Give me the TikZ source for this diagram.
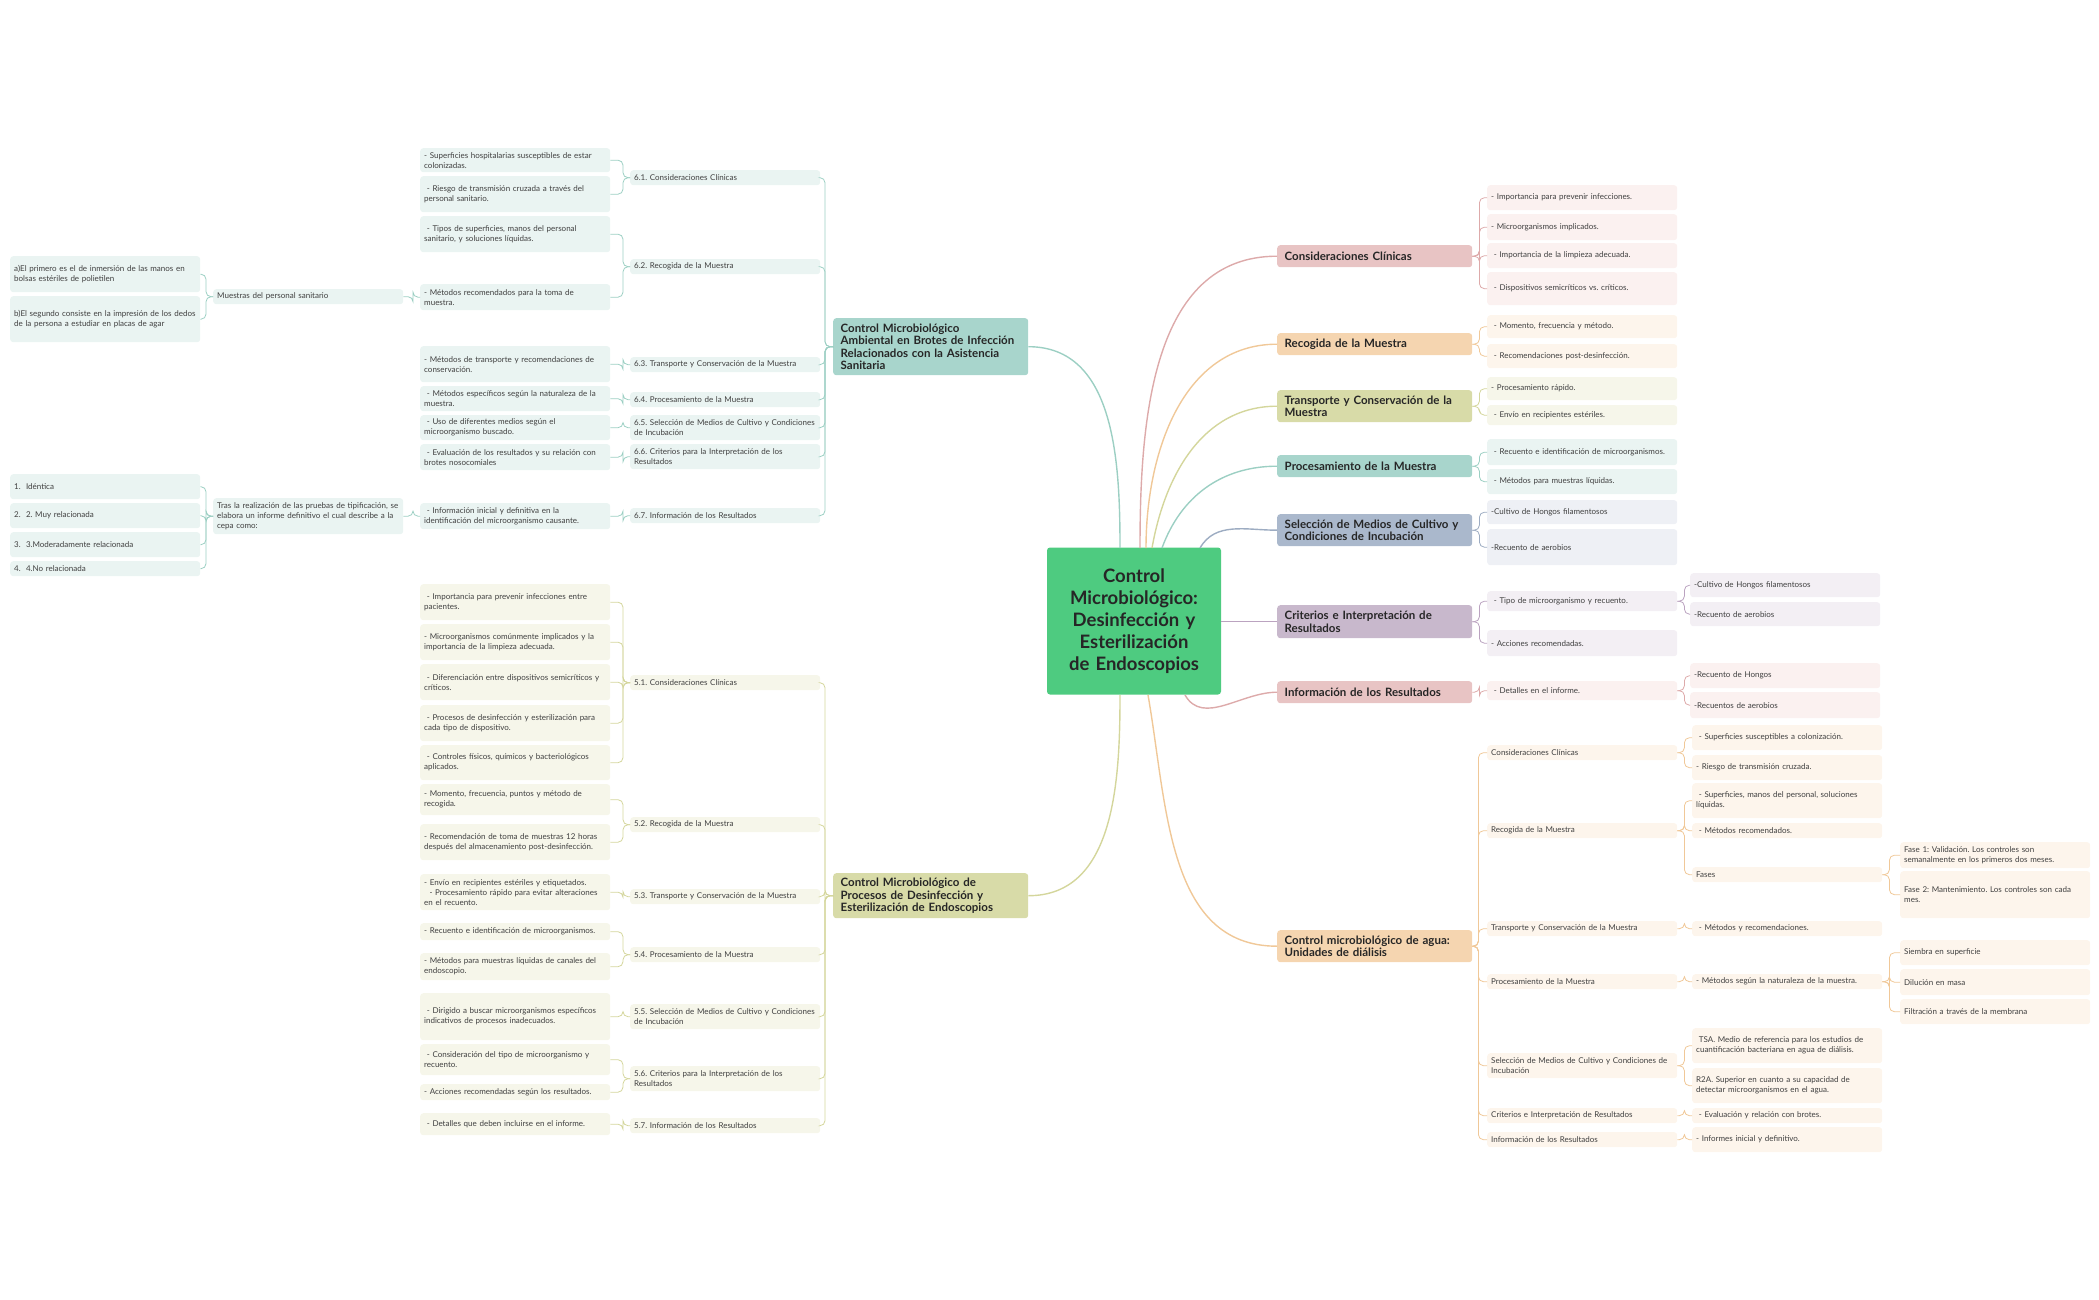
\documentclass[tikz,border=0pt]{standalone}
\usepackage{fontspec}
\setmainfont{Lato}
\usetikzlibrary{positioning}
\hyphenpenalty=10000 \exhyphenpenalty=10000 \frenchspacing

\definecolor{cenG}{HTML}{4ECB80}
\definecolor{pinkM}{HTML}{E8C4C4}\definecolor{pinkL}{HTML}{FBF1F0}\definecolor{pinkD}{HTML}{DDAAAA}
\definecolor{oranM}{HTML}{F5D5B0}\definecolor{oranL}{HTML}{FDF5EC}\definecolor{oranD}{HTML}{F0C898}
\definecolor{oliM}{HTML}{D8DBA8}\definecolor{oliL}{HTML}{F6F6EA}\definecolor{oliD}{HTML}{D4D69C}
\definecolor{tealM}{HTML}{A8D5CC}\definecolor{tealL}{HTML}{EAF4F2}\definecolor{tealD}{HTML}{9CCFC3}
\definecolor{bluM}{HTML}{AAB8CC}\definecolor{bluL}{HTML}{EEF0F5}\definecolor{bluD}{HTML}{9DACC2}
\definecolor{purM}{HTML}{C8B8CC}\definecolor{purL}{HTML}{F3EFF4}\definecolor{purD}{HTML}{BBA3C0}

\tikzset{
  main/.style={rounded corners=3pt,anchor=north west,text width=180pt,inner xsep=4pt,inner ysep=2pt,
    align=left,font=\fontsize{11.5}{12.5}\selectfont\bfseries,text=black!85,minimum width=195pt},
  leaf/.style={rounded corners=3pt,anchor=north west,text width=182pt,inner xsep=4pt,inner ysep=2pt,
    align=left,font=\fontsize{8}{10}\selectfont,text=black!75},
  rlink/.style={rounded corners=5pt,line width=0.8pt},
  trunk/.style={line width=1.4pt},
}

\begin{document}
\begin{tikzpicture}[x=1pt,y=-1pt]
  \useasboundingbox (0,0) rectangle (2099,1300);

  % centre
  \node[rounded corners=3pt,fill=cenG,minimum width=174pt,minimum height=147pt,text width=150pt,align=center,
    font=\fontsize{18.5}{22}\selectfont\bfseries,text=black!85] (c) at (1134,621)
    {Control Microbiológico: Desinfección y Esterilización de Endoscopios};

  % ---------- right side ----------
  \node[main,fill=pinkM,minimum height=22pt] (r1) at (1277,245) {Consideraciones Clínicas};
  \node[main,fill=oranM,minimum height=22pt] (r2) at (1277,333) {Recogida de la Muestra};
  \node[main,fill=oliM,minimum height=32pt] (r3) at (1277,390) {Transporte y Conservación de la Muestra};
  \node[main,fill=tealM,minimum height=22pt] (r4) at (1277,455) {Procesamiento de la Muestra};
  \node[main,fill=bluM,minimum height=32pt] (r5) at (1277,514) {Selección de Medios de Cultivo y Condiciones de Incubación};
  \node[main,fill=purM,minimum height=33pt] (r6) at (1277,605) {Criterios e Interpretación de Resultados};
  \node[main,fill=pinkM,minimum height=22pt] (r7) at (1277,681) {Información de los Resultados};
  \node[main,fill=oranM,minimum height=32pt] (r8) at (1277,930) {Control microbiológico de agua: Unidades de diálisis};

  \draw[trunk,pinkD] (1140,548) to[out=90,in=180] (r1.west);
  \draw[trunk,oranD] (1146,548) to[out=90,in=180] (r2.west);
  \draw[trunk,oliD] (1152,548) to[out=80,in=180] (r3.west);
  \draw[trunk,tealD] (1162,548) to[out=70,in=180] (r4.west);
  \draw[trunk,bluD] (1200,548) to[out=60,in=180] (r5.west);
  \draw[trunk,purD] (c.east |- r6.west) -- (r6.west);
  \draw[trunk,pinkD] (1185,695) to[out=-60,in=180] (r7.west);
  \draw[trunk,oranD] (1148,695) to[out=-80,in=180] (r8.west);

  \node[leaf,fill=pinkL,minimum height=25pt] (r1a) at (1487,185) {- Importancia para prevenir infecciones.};
  \node[leaf,fill=pinkL,minimum height=26pt] (r1b) at (1487,214) {- Microorganismos implicados.};
  \node[leaf,fill=pinkL,minimum height=25pt] (r1c) at (1487,243) {\ - Importancia de la limpieza adecuada.};
  \node[leaf,fill=pinkL,minimum height=33pt] (r1d) at (1487,272) {\ - Dispositivos semicríticos vs. críticos.};
  \node[leaf,fill=oranL,minimum height=23pt] (r2a) at (1487,315) {\ - Momento, frecuencia y método.};
  \node[leaf,fill=oranL,minimum height=24pt] (r2b) at (1487,344) {\ - Recomendaciones post-desinfección.};
  \node[leaf,fill=oliL,minimum height=23pt] (r3a) at (1487,377) {- Procesamiento rápido.};
  \node[leaf,fill=oliL,minimum height=20pt] (r3b) at (1487,405) {\ - Envío en recipientes estériles.};
  \node[leaf,fill=tealL,minimum height=26pt] (r4a) at (1487,439) {\ - Recuento e identificación de microorganismos.};
  \node[leaf,fill=tealL,minimum height=25pt] (r4b) at (1487,469) {\ - Métodos para muestras líquidas.};
  \node[leaf,fill=bluL,minimum height=24pt] (r5a) at (1487,500) {-Cultivo de Hongos filamentosos};
  \node[leaf,fill=bluL,minimum height=36pt] (r5b) at (1487,529) {-Recuento de aerobios};
  \node[leaf,fill=purL,minimum height=20pt] (r6a) at (1487,591) {\ - Tipo de microorganismo y recuento.};
  \node[leaf,fill=purL,minimum height=26pt] (r6b) at (1487,630) {- Acciones recomendadas.};
  \node[leaf,fill=purL,minimum height=24pt] (r6a1) at (1690,573) {-Cultivo de Hongos filamentosos};
  \node[leaf,fill=purL,minimum height=24pt] (r6a2) at (1690,602) {-Recuento de aerobios};
  \node[leaf,fill=pinkL,minimum height=19pt] (r7a) at (1487,681) {\ - Detalles en el informe.};
  \node[leaf,fill=pinkL,minimum height=25pt] (r7a1) at (1690,663) {-Recuento de Hongos};
  \node[leaf,fill=pinkL,minimum height=26pt] (r7a2) at (1690,692) {-Recuentos de aerobios};

  \foreach \p/\k/\col in {r1/r1a/pinkD,r1/r1b/pinkD,r1/r1c/pinkD,r1/r1d/pinkD,r2/r2a/oranD,r2/r2b/oranD,
      r3/r3a/oliD,r3/r3b/oliD,r4/r4a/tealD,r4/r4b/tealD,r5/r5a/bluD,r5/r5b/bluD,r6/r6a/purD,r6/r6b/purD,
      r6a/r6a1/purD,r6a/r6a2/purD,r7/r7a/pinkD,r7a/r7a1/pinkD,r7a/r7a2/pinkD}
    \draw[rlink,\col] (\p.east) -- ++(7,0) |- (\k.west);

  % agua
  \node[leaf,fill=oranL,minimum height=15pt] (w1) at (1487,745) {Consideraciones Clínicas};
  \node[leaf,fill=oranL,minimum height=15pt] (w2) at (1487,823) {Recogida de la Muestra};
  \node[leaf,fill=oranL,minimum height=15pt] (w3) at (1487,921) {Transporte y Conservación de la Muestra};
  \node[leaf,fill=oranL,minimum height=15pt] (w4) at (1487,974) {Procesamiento de la Muestra};
  \node[leaf,fill=oranL,minimum height=25pt] (w5) at (1487,1053) {Selección de Medios de Cultivo y Condiciones de Incubación};
  \node[leaf,fill=oranL,minimum height=15pt] (w6) at (1487,1108) {Criterios e Interpretación de Resultados};
  \node[leaf,fill=oranL,minimum height=15pt] (w7) at (1487,1132) {Información de los Resultados};
  \node[leaf,fill=oranL,minimum height=25pt] (w1a) at (1692,725) {\ - Superficies susceptibles a colonización.};
  \node[leaf,fill=oranL,minimum height=25pt] (w1b) at (1692,755) {- Riesgo de transmisión cruzada.};
  \node[leaf,fill=oranL,minimum height=35pt] (w2a) at (1692,783) {\ - Superficies, manos del personal, soluciones líquidas.};
  \node[leaf,fill=oranL,minimum height=15pt] (w2b) at (1692,823) {\ - Métodos recomendados.};
  \node[leaf,fill=oranL,minimum height=15pt] (w2c) at (1692,867) {Fases};
  \node[leaf,fill=oranL,minimum height=26pt] (w2c1) at (1900,842) {Fase 1: Validación. Los controles son semanalmente en los primeros dos meses.};
  \node[leaf,fill=oranL,minimum height=47pt] (w2c2) at (1900,871) {Fase 2: Mantenimiento. Los controles son cada mes.};
  \node[leaf,fill=oranL,minimum height=15pt] (w3a) at (1692,921) {\ - Métodos y recomendaciones.};
  \node[leaf,fill=oranL,minimum height=15pt] (w4a) at (1692,974) {- Métodos según la naturaleza de la muestra.};
  \node[leaf,fill=oranL,minimum height=25pt] (w4a1) at (1900,940) {Siembra en superficie};
  \node[leaf,fill=oranL,minimum height=26pt] (w4a2) at (1900,969) {Dilución en masa};
  \node[leaf,fill=oranL,minimum height=25pt] (w4a3) at (1900,999) {Filtración a través de la membrana};
  \node[leaf,fill=oranL,minimum height=35pt] (w5a) at (1692,1028) {\ TSA. Medio de referencia para los estudios de cuantificación bacteriana en agua de diálisis.};
  \node[leaf,fill=oranL,minimum height=35pt] (w5b) at (1692,1068) {R2A. Superior en cuanto a su capacidad de detectar microorganismos en el agua.};
  \node[leaf,fill=oranL,minimum height=15pt] (w6a) at (1692,1108) {\ - Evaluación y relación con brotes.};
  \node[leaf,fill=oranL,minimum height=25pt] (w7a) at (1692,1127) {- Informes inicial y definitivo.};

  \foreach \k in {w1,w2,w3,w4,w5,w6,w7}
    \draw[rlink,oranD] (r8.east) -- ++(6,0) |- (\k.west);
  \foreach \p/\k in {w1/w1a,w1/w1b,w2/w2a,w2/w2b,w2/w2c,w2c/w2c1,w2c/w2c2,w3/w3a,w4/w4a,
      w4a/w4a1,w4a/w4a2,w4a/w4a3,w5/w5a,w5/w5b,w6/w6a,w7/w7a}
    \draw[rlink,oranD] (\p.east) -- ++(7,0) |- (\k.west);

  % ---------- left top ----------
  \node[main,fill=tealM,minimum height=57pt] (l1) at (833,318)
    {Control Microbiológico Ambiental en Brotes de Infección Relacionados con la Asistencia Sanitaria};
  \draw[trunk,tealD] (1120,548) to[out=90,in=0] (l1.east);

  \node[leaf,fill=tealL,minimum height=15pt] (a1) at (630,170) {6.1. Consideraciones Clínicas};
  \node[leaf,fill=tealL,minimum height=15pt] (a2) at (630,259) {6.2. Recogida de la Muestra};
  \node[leaf,fill=tealL,minimum height=15pt] (a3) at (630,357) {6.3. Transporte y Conservación de la Muestra};
  \node[leaf,fill=tealL,minimum height=15pt] (a4) at (630,392) {6.4. Procesamiento de la Muestra};
  \node[leaf,fill=tealL,minimum height=25pt] (a5) at (630,415) {6.5. Selección de Medios de Cultivo y Condiciones de Incubación};
  \node[leaf,fill=tealL,minimum height=25pt] (a6) at (630,444) {6.6. Criterios para la Interpretación de los Resultados};
  \node[leaf,fill=tealL,minimum height=15pt] (a7) at (630,508) {6.7. Información de los Resultados};
  \node[leaf,fill=tealL,minimum height=24pt] (a1a) at (420,148) {- Superficies hospitalarias susceptibles de estar colonizadas.};
  \node[leaf,fill=tealL,minimum height=36pt] (a1b) at (420,176) {\ - Riesgo de transmisión cruzada a través del personal sanitario.};
  \node[leaf,fill=tealL,minimum height=36pt] (a2a) at (420,216) {\ - Tipos de superficies, manos del personal sanitario, y soluciones líquidas.};
  \node[leaf,fill=tealL,minimum height=26pt] (a2b) at (420,284) {- Métodos recomendados para la toma de muestra.};
  \node[leaf,fill=tealL,minimum height=15pt] (a2b1) at (213,289) {Muestras del personal sanitario};
  \node[leaf,fill=tealL,minimum height=36pt] (a2b1a) at (10,256) {a)El primero es el de inmersión de las manos en bolsas estériles de polietilen};
  \node[leaf,fill=tealL,minimum height=46pt] (a2b1b) at (10,296) {b)El segundo consiste en la impresión de los dedos de la persona a estudiar en placas de agar};
  \node[leaf,fill=tealL,minimum height=36pt] (a3a) at (420,346) {- Métodos de transporte y recomendaciones de conservación.};
  \node[leaf,fill=tealL,minimum height=25pt] (a4a) at (420,386) {\ - Métodos específicos según la naturaleza de la muestra.};
  \node[leaf,fill=tealL,minimum height=25pt] (a5a) at (420,415) {\ - Uso de diferentes medios según el microorganismo buscado.};
  \node[leaf,fill=tealL,minimum height=26pt] (a6a) at (420,444) {\ - Evaluación de los resultados y su relación con brotes nosocomiales};
  \node[leaf,fill=tealL,minimum height=26pt] (a7a) at (420,503) {\ - Información inicial y definitiva en la identificación del microorganismo causante.};
  \node[leaf,fill=tealL,minimum height=36pt] (a7a1) at (213,498) {Tras la realización de las pruebas de tipificación, se elabora un informe definitivo el cual describe a la cepa como:};
  \node[leaf,fill=tealL,minimum height=25pt] (a7a1a) at (10,474) {1.\ \ Idéntica};
  \node[leaf,fill=tealL,minimum height=25pt] (a7a1b) at (10,503) {2.\ \ 2. Muy relacionada};
  \node[leaf,fill=tealL,minimum height=25pt] (a7a1c) at (10,532) {3.\ \ 3.Moderadamente relacionada};
  \node[leaf,fill=tealL,minimum height=15pt] (a7a1d) at (10,561) {4.\ \ 4.No relacionada};

  \foreach \k in {a1,a2,a3,a4,a5,a6,a7}
    \draw[rlink,tealD] (l1.west) -- ++(-8,0) |- (\k.east);
  \foreach \p/\k in {a1/a1a,a1/a1b,a2/a2a,a2/a2b,a2b/a2b1,a2b1/a2b1a,a2b1/a2b1b,a3/a3a,a4/a4a,a5/a5a,a6/a6a,
      a7/a7a,a7a/a7a1,a7a1/a7a1a,a7a1/a7a1b,a7a1/a7a1c,a7a1/a7a1d}
    \draw[rlink,tealD] (\p.west) -- ++(-7,0) |- (\k.east);

  % ---------- left bottom ----------
  \node[main,fill=oliM,minimum height=45pt] (l2) at (833,873)
    {Control Microbiológico de Procesos de Desinfección y Esterilización de Endoscopios};
  \draw[trunk,oliD] (1120,695) to[out=-90,in=0] (l2.east);

  \node[leaf,fill=oliL,minimum height=15pt] (b1) at (630,675) {5.1. Consideraciones Clínicas};
  \node[leaf,fill=oliL,minimum height=15pt] (b2) at (630,817) {5.2. Recogida de la Muestra};
  \node[leaf,fill=oliL,minimum height=15pt] (b3) at (630,889) {5.3. Transporte y Conservación de la Muestra};
  \node[leaf,fill=oliL,minimum height=15pt] (b4) at (630,947) {5.4. Procesamiento de la Muestra};
  \node[leaf,fill=oliL,minimum height=25pt] (b5) at (630,1004) {5.5. Selección de Medios de Cultivo y Condiciones de Incubación};
  \node[leaf,fill=oliL,minimum height=25pt] (b6) at (630,1066) {5.6. Criterios para la Interpretación de los Resultados};
  \node[leaf,fill=oliL,minimum height=15pt] (b7) at (630,1118) {5.7. Información de los Resultados};
  \node[leaf,fill=oliL,minimum height=36pt] (b1a) at (420,584) {\ - Importancia para prevenir infecciones entre pacientes.};
  \node[leaf,fill=oliL,minimum height=36pt] (b1b) at (420,624) {- Microorganismos comúnmente implicados y la importancia de la limpieza adecuada.};
  \node[leaf,fill=oliL,minimum height=36pt] (b1c) at (420,664) {\ - Diferenciación entre dispositivos semicríticos y críticos.};
  \node[leaf,fill=oliL,minimum height=36pt] (b1d) at (420,705) {\ - Procesos de desinfección y esterilización para cada tipo de dispositivo.};
  \node[leaf,fill=oliL,minimum height=35pt] (b1e) at (420,745) {\ - Controles físicos, químicos y bacteriológicos aplicados.};
  \node[leaf,fill=oliL,minimum height=31pt] (b2a) at (420,784) {- Momento, frecuencia, puntos y método de recogida.};
  \node[leaf,fill=oliL,minimum height=36pt] (b2b) at (420,824) {- Recomendación de toma de muestras 12 horas después del almacenamiento post-desinfección.};
  \node[leaf,fill=oliL,minimum height=36pt] (b3a) at (420,874) {- Envío en recipientes estériles y etiquetados.\\\ \ - Procesamiento rápido para evitar alteraciones en el recuento.};
  \node[leaf,fill=oliL,minimum height=17pt] (b4a) at (420,923) {- Recuento e identificación de microorganismos.};
  \node[leaf,fill=oliL,minimum height=27pt] (b4b) at (420,953) {- Métodos para muestras líquidas de canales del endoscopio.};
  \node[leaf,fill=oliL,minimum height=47pt] (b5a) at (420,993) {\ - Dirigido a buscar microorganismos específicos indicativos de procesos inadecuados.};
  \node[leaf,fill=oliL,minimum height=31pt] (b6a) at (420,1044) {\ - Consideración del tipo de microorganismo y recuento.};
  \node[leaf,fill=oliL,minimum height=16pt] (b6b) at (420,1084) {- Acciones recomendadas según los resultados.};
  \node[leaf,fill=oliL,minimum height=22pt] (b7a) at (420,1113) {\ - Detalles que deben incluirse en el informe.};

  \foreach \k in {b1,b2,b3,b4,b5,b6,b7}
    \draw[rlink,oliD] (l2.west) -- ++(-8,0) |- (\k.east);
  \foreach \p/\k in {b1/b1a,b1/b1b,b1/b1c,b1/b1d,b1/b1e,b2/b2a,b2/b2b,b3/b3a,b4/b4a,b4/b4b,b5/b5a,
      b6/b6a,b6/b6b,b7/b7a}
    \draw[rlink,oliD] (\p.west) -- ++(-7,0) |- (\k.east);
\end{tikzpicture}
\end{document}
